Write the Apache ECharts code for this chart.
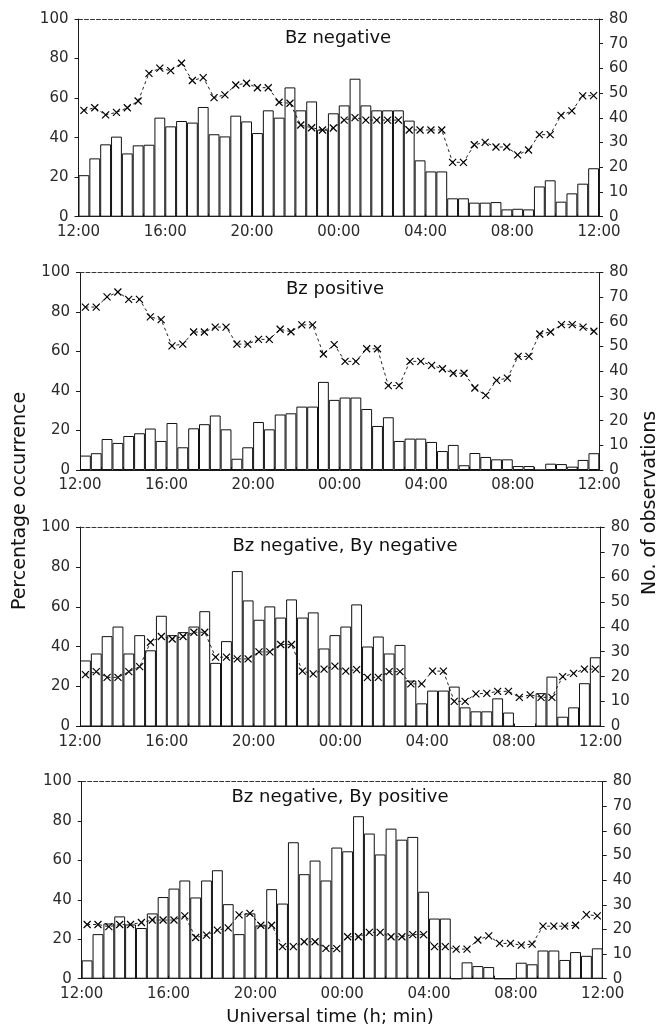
<!DOCTYPE html>
<html>
<head>
<meta charset="utf-8">
<script src="https://cdn.jsdelivr.net/npm/echarts@6/dist/echarts.min.js"></script>
<style>
html,body{margin:0;padding:0;background:#fff;}
#c{width:661px;height:1032px;}
</style>
</head>
<body>
<div id="c"></div>
<script>
// Half-hour UT bins, 12:00 -> 12:00
const categories = ['12:00','12:30','13:00','13:30','14:00','14:30','15:00','15:30','16:00','16:30','17:00','17:30',
  '18:00','18:30','19:00','19:30','20:00','20:30','21:00','21:30','22:00','22:30','23:00','23:30',
  '00:00','00:30','01:00','01:30','02:00','02:30','03:00','03:30','04:00','04:30','05:00','05:30',
  '06:00','06:30','07:00','07:30','08:00','08:30','09:00','09:30','10:00','10:30','11:00','11:30'];
const xTickLabels = ['12:00','16:00','20:00','00:00','04:00','08:00','12:00'];
const leftTicks = [0, 100, 20];   // min, max, interval
const rightTicks = [0, 80, 10];

const panelTitles = ['Bz negative','Bz positive','Bz negative, By negative','Bz negative, By positive'];

// Percentage occurrence (bars, left axis)
const pctBzNeg = [21, 29.5, 36.6, 40.5, 32, 36.1, 36.4, 50.1, 45.7, 48.4, 47.6, 55.5, 41.7, 40.6, 51.1, 48.2, 42.3, 53.8, 50.1, 65.4, 53.8, 58.3, 44, 52.3,
  56.3, 69.8, 56.3, 53.8, 53.8, 53.8, 48.6, 28.5, 22.9, 22.9, 9.3, 9.3, 7.1, 7.1, 7.4, 3.7, 4.0, 3.7, 15.3, 18.4, 7.6, 11.8, 16.7, 24.5];
const pctBzPos = [7.3, 8.5, 15.7, 13.7, 17.2, 18.6, 21.0, 14.7, 23.8, 11.5, 21.1, 23.2, 27.6, 20.6, 5.7, 11.5, 24.3, 20.6, 28.1, 28.7, 32.1, 32.1, 44.6, 35.5,
  36.7, 36.7, 30.9, 22.3, 26.7, 14.7, 15.9, 15.9, 14.2, 9.6, 12.7, 2.4, 8.6, 6.6, 5.4, 5.4, 2.0, 2.0, 0, 3.2, 3.0, 1.7, 5.1, 8.5];
const pctByNeg = [33.1, 36.6, 45.3, 50.1, 36.6, 45.8, 38.2, 55.5, 45.8, 47.3, 50.1, 57.8, 31.9, 42.8, 77.9, 63.2, 53.5, 60.2, 54.6, 63.7, 54.6, 57.2, 39.1, 45.8,
  50.1, 61.2, 40.1, 45.1, 36.6, 40.9, 23.0, 11.6, 18.0, 18.0, 20.0, 9.6, 7.6, 7.6, 14.1, 7.0, 0, 0, 16.7, 25.0, 4.9, 9.6, 21.7, 34.7];
const pctByPos = [9.3, 22.6, 28.0, 31.6, 27.5, 25.7, 33.1, 41.4, 45.7, 49.8, 41.2, 49.8, 55.0, 37.8, 22.6, 33.1, 27, 45.4, 38.1, 69.2, 53.0, 59.9, 49.8, 66.5,
  64.6, 82.4, 73.6, 63.0, 76.1, 70.5, 71.9, 44.1, 30.5, 30.5, 0, 8.3, 6.4, 5.9, 0, 0, 8.1, 7.3, 14.3, 14.3, 9.5, 13.5, 11.6, 15.4];

// Number of observations (dashed line with crosses, right axis)
const obsBzNeg = [43.0, 44.1, 41.2, 42.2, 44.1, 46.8, 58.0, 60.1, 59.1, 62.1, 55.1, 56.3, 48.2, 49.3, 53.3, 54.0, 52.2, 52.2, 46.3, 45.9, 37.1, 36.0, 35.1, 35.9,
  39.1, 40.1, 39.1, 39.1, 39.1, 39.1, 35.1, 35.1, 35.1, 35.1, 22.0, 22.0, 29.1, 30.1, 28.2, 28.2, 25.0, 27.0, 33.2, 33.2, 41.0, 42.8, 48.9, 49.0];
const obsBzPos = [66.0, 66.0, 70.1, 72.1, 69.1, 69.1, 62.0, 60.9, 50.3, 51.0, 55.9, 55.9, 57.9, 57.9, 51.0, 51.0, 52.9, 52.9, 57.0, 56.0, 58.8, 58.8, 47.0, 50.8,
  44.0, 44.0, 49.1, 49.1, 34.2, 34.2, 44.0, 44.0, 42.4, 41.0, 39.2, 39.2, 33.2, 30.2, 36.3, 37.2, 46.0, 46.0, 55.1, 55.9, 58.9, 58.9, 57.9, 56.2];
const obsByNeg = [20.8, 22.0, 19.7, 19.7, 22.0, 24.0, 33.8, 36.1, 35.1, 36.1, 37.8, 37.8, 27.8, 27.8, 27.1, 27.1, 29.9, 29.9, 32.9, 32.9, 22.2, 21.1, 23.0, 24.2,
  22.2, 22.8, 19.7, 19.7, 22.0, 22.0, 17.1, 17.1, 22.2, 22.2, 10.1, 10.1, 13.1, 13.3, 14.1, 14.1, 11.7, 12.7, 11.7, 11.7, 20.0, 21.3, 23.0, 23.0];
const obsByPos = [22.0, 22.0, 21.1, 22.0, 22.0, 22.8, 23.8, 23.8, 23.8, 25.5, 16.7, 17.7, 19.7, 20.6, 25.9, 26.5, 21.7, 21.7, 13.0, 13.0, 15.0, 15.0, 12.3, 12.2,
  17.0, 17.0, 18.8, 18.8, 17.0, 17.0, 17.9, 17.9, 13.0, 13.0, 12.0, 12.0, 15.7, 17.4, 14.3, 14.3, 13.6, 14.0, 21.3, 21.3, 21.3, 21.7, 26.0, 25.5];

const pctSets = [pctBzNeg, pctBzPos, pctByNeg, pctByPos];
const obsSets = [obsBzNeg, obsBzPos, obsByNeg, obsByPos];

// layout (pixels)
const layout = [
  {l:78.5, r:599.0, t:19.0,  b:216.7, tx:338, ty:38},
  {l:80.0, r:599.3, t:272.5, b:470.0, tx:335, ty:289},
  {l:80.0, r:600.7, t:527.0, b:726.5, tx:345, ty:546},
  {l:81.7, r:602.7, t:781.5, b:978.7, tx:340, ty:797.5}
];

const ink = '#1a1a1a';
const tickFont = {fontFamily:'DejaVu Sans', fontSize:15, color:'#2a2a2a'};
const cross = 'path://M0,0L10,10M10,0L0,10';

const grid = [], xAxis = [], yAxis = [], series = [], graphic = [];
layout.forEach((g, i) => {
  grid.push({left:g.l, top:g.t, width:g.r - g.l, height:g.b - g.t, containLabel:false});
  // category axis (top edge = dashed frame line)
  xAxis.push({
    type:'category', gridIndex:i, data:categories, position:'top', boundaryGap:true,
    axisLine:{show:true, onZero:false, lineStyle:{color:'#333', width:1, type:[4,2]}},
    axisTick:{show:false}, axisLabel:{show:false}, splitLine:{show:false}
  });
  // value axis 0..24 h for bottom labels and hourly ticks
  xAxis.push({
    type:'value', gridIndex:i, min:0, max:24, interval:1, position:'bottom',
    axisLine:{show:true, onZero:false, lineStyle:{color:ink, width:1}},
    axisTick:{show:true, inside:true, length:3, lineStyle:{color:ink}},
    axisLabel:Object.assign({margin:8, formatter:v => (v % 4 === 0 ? xTickLabels[v / 4] : '')}, tickFont),
    splitLine:{show:false}
  });
  yAxis.push({
    type:'value', gridIndex:i, position:'left', min:leftTicks[0], max:leftTicks[1], interval:leftTicks[2],
    axisLine:{show:true, onZero:false, lineStyle:{color:ink, width:1}},
    axisTick:{show:true, length:4, lineStyle:{color:ink}},
    axisLabel:Object.assign({margin:10}, tickFont),
    splitLine:{show:false}
  });
  yAxis.push({
    type:'value', gridIndex:i, position:'right', min:rightTicks[0], max:rightTicks[1], interval:rightTicks[2],
    axisLine:{show:true, onZero:false, lineStyle:{color:ink, width:1}},
    axisTick:{show:true, length:4, lineStyle:{color:ink}},
    axisLabel:Object.assign({margin:10}, tickFont),
    splitLine:{show:false}
  });
  series.push({
    type:'bar', xAxisIndex:2 * i, yAxisIndex:2 * i, data:pctSets[i],
    barCategoryGap:'0%', barGap:'0%',
    itemStyle:{color:'#fff', borderColor:'#111', borderWidth:1},
    emphasis:{disabled:true}, z:2
  });
  series.push({
    type:'line', xAxisIndex:2 * i, yAxisIndex:2 * i + 1, data:obsSets[i],
    lineStyle:{color:'#222', width:1, type:[3,3]},
    symbol:cross, symbolSize:7, showSymbol:true,
    itemStyle:{color:'#000', borderColor:'#000', borderWidth:1.2},
    emphasis:{disabled:true}, z:4
  });
  graphic.push({
    type:'text', x:g.tx, y:g.ty, z:10,
    style:{text:panelTitles[i], fill:'#111', font:'18px "DejaVu Sans"', align:'center', verticalAlign:'middle'}
  });
});

graphic.push({type:'text', x:20, y:501, rotation:Math.PI / 2,
  style:{text:'Percentage occurrence', fill:'#111', font:'19px "DejaVu Sans"', align:'center', verticalAlign:'middle'}});
graphic.push({type:'text', x:650, y:503, rotation:Math.PI / 2,
  style:{text:'No. of observations', fill:'#111', font:'19px "DejaVu Sans"', align:'center', verticalAlign:'middle'}});
graphic.push({type:'text', x:330, y:1017,
  style:{text:'Universal time (h; min)', fill:'#111', font:'18px "DejaVu Sans"', align:'center', verticalAlign:'middle'}});

const chart = echarts.init(document.getElementById('c'), null, {renderer:'canvas'});
chart.setOption({
  animation:false,
  backgroundColor:'#fff',
  grid, xAxis, yAxis, series, graphic
});
</script>
</body>
</html>
